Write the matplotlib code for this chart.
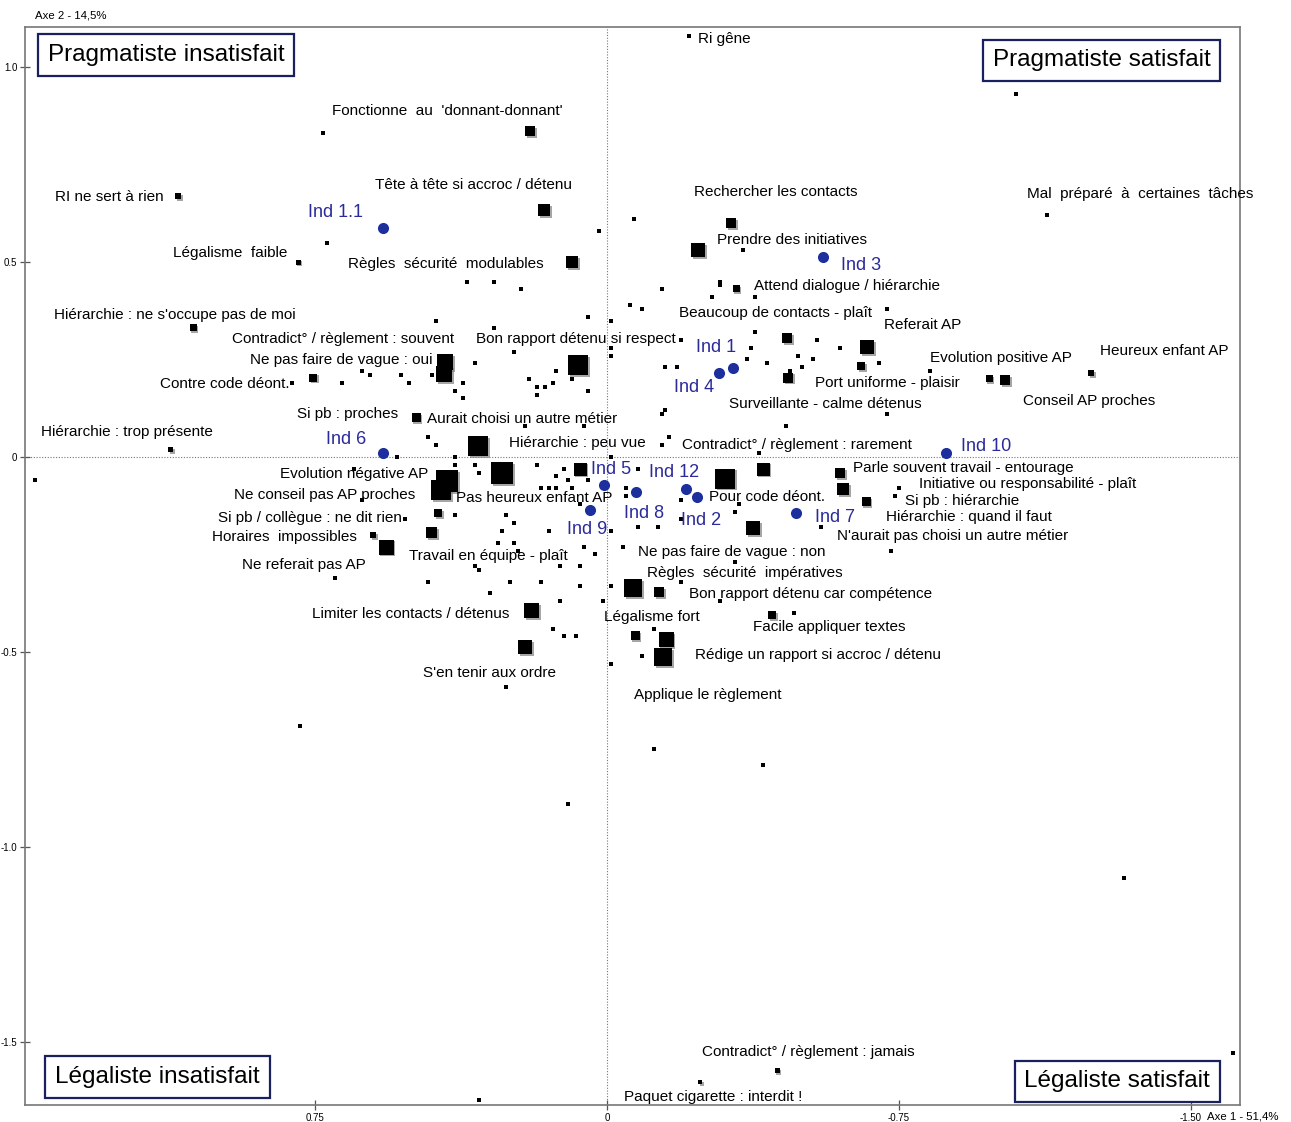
import matplotlib
matplotlib.use("Agg")
import matplotlib.pyplot as plt
import matplotlib.patheffects as pe

plt.rcParams['font.family'] = ['Liberation Sans', 'DejaVu Sans']

# Modalités (coordonnées factorielles, axe 1 / axe 2)
carre_x = [0.198, 0.162, 0.090, 1.103, 0.794, 1.064, 0.416, 0.419, 0.075, 0.756,
           0.491, 0.332, 0.270, 0.411, 0.427, 0.069, 0.434, 0.450, 0.568, 0.602,
           0.193, 0.211, -0.067, -0.134, -0.424, -0.072, -0.152, -0.144, -0.319, -0.234,
           -0.332, -0.463, -0.668, -0.653, -0.465, -0.982, -1.023, -1.244, -0.401, -0.303,
           -0.599, -0.607, -0.666, -0.375, 1.121, -0.437, -0.239]
carre_y = [0.836, 0.633, 0.500, 0.669, 0.500, 0.331, 0.244, 0.213, 0.236, 0.203,
           0.100, 0.028, -0.041, -0.062, -0.085, -0.031, -0.144, -0.195, -0.231, -0.200,
           -0.395, -0.487, -0.336, -0.346, -0.405, -0.459, -0.469, -0.513, 0.600, 0.531,
           0.431, 0.305, 0.282, 0.233, 0.203, 0.200, 0.197, 0.215, -0.031, -0.056,
           -0.041, -0.082, -0.115, -0.182, 0.018, -1.574, -1.603]
carre_poids = [10, 12, 12, 6, 5, 7, 16, 16, 20, 8,
               9, 20, 22, 22, 20, 13, 8, 11, 15, 6,
               15, 14, 18, 10, 8, 9, 15, 18, 10, 14,
               7, 10, 14, 8, 10, 7, 10, 6, 13, 20,
               10, 12, 9, 14, 5, 5, 4]

etiquettes = ["Fonctionne  au  'donnant-donnant'", "Tête à tête si accroc / détenu",
              "Règles  sécurité  modulables", "RI ne sert à rien", "Légalisme  faible",
              "Hiérarchie : ne s'occupe pas de moi", "Contradict° / règlement : souvent",
              "Bon rapport détenu si respect", "Ne pas faire de vague : oui",
              "Contre code déont.", "Si pb : proches", "Aurait choisi un autre métier",
              "Hiérarchie : trop présente", "Hiérarchie : peu vue",
              "Contradict° / règlement : rarement", "Evolution négative AP",
              "Ne conseil pas AP proches", "Pas heureux enfant AP",
              "Si pb / collègue : ne dit rien", "Horaires  impossibles",
              "Travail en équipe - plaît", "Ne referait pas AP",
              "Ne pas faire de vague : non", "Règles  sécurité  impératives",
              "Bon rapport détenu car compétence", "Limiter les contacts / détenus",
              "Légalisme fort", "Facile appliquer textes",
              "Rédige un rapport si accroc / détenu", "S'en tenir aux ordre",
              "Applique le règlement", "Rechercher les contacts",
              "Prendre des initiatives", "Attend dialogue / hiérarchie",
              "Beaucoup de contacts - plaît", "Referait AP", "Port uniforme - plaisir",
              "Surveillante - calme détenus", "Evolution positive AP",
              "Heureux enfant AP", "Conseil AP proches",
              "Mal  préparé  à  certaines  tâches", "Ri gêne",
              "Parle souvent travail - entourage", "Initiative ou responsabilité - plaît",
              "Si pb : hiérarchie", "Hiérarchie : quand il faut",
              "N'aurait pas choisi un autre métier", "Pour code déont.",
              "Contradict° / règlement : jamais", "Paquet cigarette : interdit !"]
etiq_x = [0.411, 0.344, 0.414, 1.280, 0.969, 1.111, 0.679, 0.080, 0.684, 0.982,
          0.668, 0.219, 1.234, 0.075, -0.488, 0.650, 0.725, 0.188, 0.763, 0.830,
          0.306, 0.779, -0.321, -0.355, -0.524, 0.504, -0.116, -0.571, -0.542, 0.303,
          -0.260, -0.434, -0.476, -0.617, -0.432, -0.810, -0.720, -0.560, -1.013,
          -1.432, -1.239, -1.370, -0.301, -0.915, -1.080, -0.913, -0.931, -0.889,
          -0.411, -0.517, -0.272]
etiq_y = [0.887, 0.697, 0.495, 0.667, 0.523, 0.364, 0.303, 0.303, 0.249, 0.187,
          0.110, 0.097, 0.064, 0.036, 0.031, -0.044, -0.097, -0.105, -0.156, -0.205,
          -0.254, -0.277, -0.244, -0.297, -0.351, -0.403, -0.410, -0.436, -0.508, -0.554,
          -0.610, 0.679, 0.556, 0.438, 0.369, 0.338, 0.190, 0.136, 0.254,
          0.272, 0.144, 0.674, 1.072, -0.028, -0.069, -0.113, -0.154, -0.203,
          -0.103, -1.526, -1.641]

# Individus
ind_noms = ["Ind 1.1", "Ind 3", "Ind 1", "Ind 4", "Ind 6", "Ind 10",
            "Ind 5", "Ind 12", "Ind 8", "Ind 2", "Ind 9", "Ind 7"]
ind_x = [0.576, -0.555, -0.324, -0.288, 0.576, -0.871, 0.008, -0.203, -0.075, -0.231, 0.044, -0.486]
ind_y = [0.587, 0.513, 0.228, 0.215, 0.010, 0.010, -0.072, -0.082, -0.090, -0.103, -0.136, -0.144]
ind_lab_x = [0.697, -0.653, -0.280, -0.224, 0.671, -0.974, -0.010, -0.172, -0.095, -0.242, 0.051, -0.586]
ind_lab_y = [0.626, 0.492, 0.282, 0.177, 0.046, 0.026, -0.033, -0.041, -0.144, -0.162, -0.185, -0.154]

# Points secondaires
pts_x = [0.73, 0.72, 0.02, -0.07, 0.36, 0.29, 0.22, 0.44, 0.05, -0.01, -0.14, -0.06, -0.09,
         -0.29, -0.29, -0.27, -0.38, -0.35, -0.72, 0.81, 0.68, 0.63, 0.61, 0.53, 0.51, 0.45,
         0.37, 0.39, 0.37, 0.34, 0.29, 0.24, 0.20, 0.18, 0.18, 0.16, 0.14, 0.13, 0.09, 0.05,
         -0.01, -0.01, 0.21, 0.06, 0.46, 0.44, 0.54, 0.65, 0.63, 0.52, 0.39, 0.24, 0.26, 0.27,
         0.15, 0.24, 0.23, 0.28, 0.06, 0.03, -0.04, 0.34, 0.33, 0.12, 0.07, -0.01, 0.70, 0.39,
         0.39, 0.34, 0.33, 0.18, 0.13, 0.11, 0.10, 0.17, 0.15, 0.13, 0.09, 0.07, -0.01, -0.01,
         0.05, -0.05, -0.05, -0.19, -0.38, -0.37, -0.36, -0.41, -0.49, -0.53, -0.50, -0.54,
         -0.60, -0.70, -0.18, -0.15, -0.47, -0.15, -0.14, -0.46, -0.72, -0.83, -0.16, -0.14,
         -0.39, -0.08, -0.19, -0.34, -0.33, -0.75, -0.74, -0.55, -0.13, -0.08, -0.19, -0.73,
         -0.33, -0.19, -0.29, -0.48, -0.09, -0.12, 0.46, 0.30, 0.25, 0.17, 0.12, 0.07, 0.01,
         0.14, 0.11, 0.08, -0.01, 0.26, 0.79, 0.10, -0.12, -0.40, 1.47, -1.05, -1.13, -0.21,
         -1.33, -1.61, 0.33]
pts_y = [0.83, 0.55, 0.58, 0.61, 0.45, 0.45, 0.43, 0.35, 0.36, 0.35, 0.43, 0.39, 0.38,
         0.45, 0.44, 0.41, 0.41, 0.53, 0.38, 0.19, 0.19, 0.22, 0.21, 0.21, 0.19, 0.21,
         0.19, 0.17, 0.15, 0.24, 0.33, 0.27, 0.20, 0.18, 0.16, 0.18, 0.19, 0.22, 0.20, 0.17,
         0.28, 0.26, 0.08, 0.08, 0.05, 0.03, 0.00, -0.03, -0.11, -0.16, -0.15, -0.17, -0.15, -0.19,
         -0.19, -0.22, -0.24, -0.22, -0.23, -0.25, -0.23, -0.28, -0.29, -0.28, -0.28, -0.33, -0.31, 0.00,
         -0.02, -0.02, -0.04, -0.02, -0.05, -0.03, -0.06, -0.08, -0.08, -0.08, -0.08, -0.12, -0.19, 0.00,
         -0.06, -0.08, -0.10, 0.30, 0.32, 0.28, 0.25, 0.24, 0.26, 0.25, 0.23, 0.30,
         0.28, 0.24, 0.23, 0.23, 0.22, 0.12, 0.11, 0.08, 0.11, 0.22, 0.05, 0.03,
         0.01, -0.03, -0.11, -0.12, -0.14, -0.08, -0.10, -0.18, -0.18, -0.18, -0.16, -0.24,
         -0.27, -0.32, -0.37, -0.40, -0.51, -0.44, -0.32, -0.35, -0.32, -0.32, -0.37, -0.33, -0.37,
         -0.44, -0.46, -0.46, -0.53, -0.59, -0.69, -0.89, -0.75, -0.79, -0.06, 0.93, 0.62, 1.08,
         -1.08, -1.53, -1.65]

quadrants = ["Pragmatiste insatisfait", "Pragmatiste satisfait",
             "Légaliste insatisfait", "Légaliste satisfait"]

# %%
fig = plt.figure(figsize=(12.91, 11.22), dpi=100)
ax = fig.add_axes([0.0194, 0.0152, 0.9411, 0.9608])
ax.set_xlim(1.496, -1.627)
ax.set_ylim(-1.662, 1.103)

ax.axhline(0, color='#777777', lw=0.8, ls=(0, (1, 1.5)), zorder=1)
ax.axvline(0, color='#777777', lw=0.8, ls=(0, (1, 1.5)), zorder=1)

ax.scatter(pts_x, pts_y, s=6, marker='s', color='black', lw=0, zorder=2)
tailles = [(p / (100 / 72)) ** 2 for p in carre_poids]
ombre = [pe.SimplePatchShadow(offset=(1.2, -1.2), shadow_rgbFace='#808080', alpha=0.7), pe.Normal()]
ax.scatter(carre_x, carre_y, s=tailles, marker='s', color='black', lw=0, zorder=3,
           path_effects=ombre)
ax.scatter(ind_x, ind_y, s=64, marker='o', color='#1c2f9c', lw=0, zorder=4)

for nom, x, y in zip(etiquettes, etiq_x, etiq_y):
    ax.text(x, y, nom, fontsize=11, ha='center', va='center', color='black',
            zorder=5, clip_on=False)
for nom, x, y in zip(ind_noms, ind_lab_x, ind_lab_y):
    ax.text(x, y, nom, fontsize=13, ha='center', va='center', color='#2a2a9a', zorder=5)

boite = dict(boxstyle='square,pad=0.4', fc='white', ec='#1a1f5e', lw=1.6)
ax.text(0.116, 0.974, quadrants[0], transform=ax.transAxes, fontsize=17.5,
        ha='center', va='center', bbox=boite, zorder=6)
ax.text(0.886, 0.969, quadrants[1], transform=ax.transAxes, fontsize=17.5,
        ha='center', va='center', bbox=boite, zorder=6)
ax.text(0.109, 0.026, quadrants[2], transform=ax.transAxes, fontsize=17.5,
        ha='center', va='center', bbox=boite, zorder=6)
ax.text(0.899, 0.022, quadrants[3], transform=ax.transAxes, fontsize=17.5,
        ha='center', va='center', bbox=boite, zorder=6)

ax.set_xticks([0.75, 0, -0.75, -1.50])
ax.set_xticklabels(['0.75', '0', '-0.75', '-1.50'])
ax.set_yticks([1.0, 0.5, 0, -0.5, -1.0, -1.5])
ax.set_yticklabels(['1.0', '0.5', '0', '-0.5', '-1.0', '-1.5'])
ax.tick_params(direction='inout', length=7, width=0.9, color='#555555',
               labelsize=7, pad=2)
for s in ax.spines.values():
    s.set_color('#777777')
    s.set_linewidth(1.2)

fig.text(0.027, 0.9866, "Axe 2 - 14,5%", fontsize=8.2, ha='left', va='center')
fig.text(0.963, 0.0053, "Axe 1 - 51,4%", fontsize=8.2, ha='center', va='center')

fig.savefig('out.png', dpi=100)
